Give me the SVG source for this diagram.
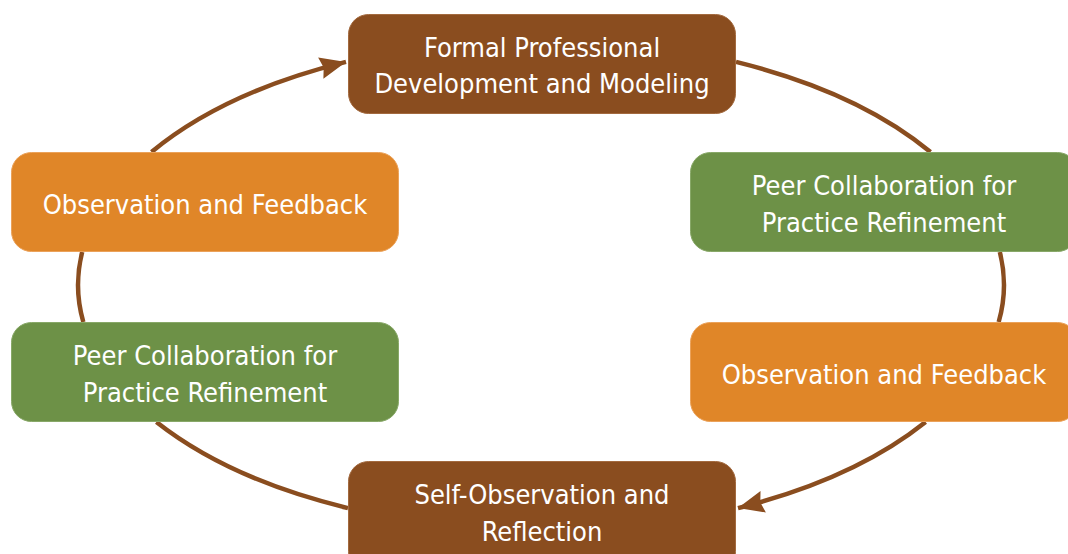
<svg xmlns="http://www.w3.org/2000/svg" width="1068" height="554" viewBox="0 0 1068 554">
  <style>
    .box { stroke-width: 1; }
    .brown { fill: #8a4d1f; stroke: #a36a3f; }
    .orange { fill: #e08628; stroke: #eba25a; }
    .green { fill: #6d9147; stroke: #88a868; }
    .label { font-family: "DejaVu Sans Condensed", "DejaVu Sans", sans-serif; font-stretch: condensed; font-size: 27px; fill: #ffffff; text-anchor: middle; }
    .link { fill: none; stroke: #8a4d1f; stroke-width: 4.5; }
  </style>
  <defs>
    <marker id="arrow" markerUnits="userSpaceOnUse" markerWidth="28" markerHeight="24" refX="26" refY="12" orient="auto">
      <path d="M0,1 L26,12 L0,23 L3,12 Z" fill="#8a4d1f"/>
    </marker>
  </defs>
  <rect width="1068" height="554" fill="#ffffff"/>

  <!-- cycle of connectors, all on one ellipse centred at (541,285) -->
  <g id="connectors">
    <path class="link" d="M736,61.9 A463,246 0 0 1 930.5,152"/>
    <path class="link" d="M999.8,252 A463,246 0 0 1 998.7,322"/>
    <path class="link" d="M925.6,422 A463,246 0 0 1 738,508.1" marker-end="url(#arrow)"/>
    <path class="link" d="M348,508.1 A463,246 0 0 1 156.4,422"/>
    <path class="link" d="M83.3,322 A463,246 0 0 1 82.2,252"/>
    <path class="link" d="M151.5,152 A463,246 0 0 1 346,61.9" marker-end="url(#arrow)"/>
  </g>

  <g id="formal-pd">
    <rect class="box brown" x="348.5" y="14.5" width="387" height="99" rx="20"/>
    <text class="label" x="542" y="57">Formal Professional</text>
    <text class="label" x="542" y="93">Development and Modeling</text>
  </g>

  <g id="peer-collab-right">
    <rect class="box green" x="690.5" y="152.5" width="387" height="99" rx="20"/>
    <text class="label" x="884" y="195">Peer Collaboration for</text>
    <text class="label" x="884" y="232">Practice Refinement</text>
  </g>

  <g id="observation-right">
    <rect class="box orange" x="690.5" y="322.5" width="387" height="99" rx="20"/>
    <text class="label" x="884" y="384">Observation and Feedback</text>
  </g>

  <g id="self-observation">
    <rect class="box brown" x="348.5" y="461.5" width="387" height="110" rx="20"/>
    <text class="label" x="542" y="504">Self-Observation and</text>
    <text class="label" x="542" y="541">Reflection</text>
  </g>

  <g id="peer-collab-left">
    <rect class="box green" x="11.5" y="322.5" width="387" height="99" rx="20"/>
    <text class="label" x="205" y="365">Peer Collaboration for</text>
    <text class="label" x="205" y="402">Practice Refinement</text>
  </g>

  <g id="observation-left">
    <rect class="box orange" x="11.5" y="152.5" width="387" height="99" rx="20"/>
    <text class="label" x="205" y="214">Observation and Feedback</text>
  </g>
</svg>
